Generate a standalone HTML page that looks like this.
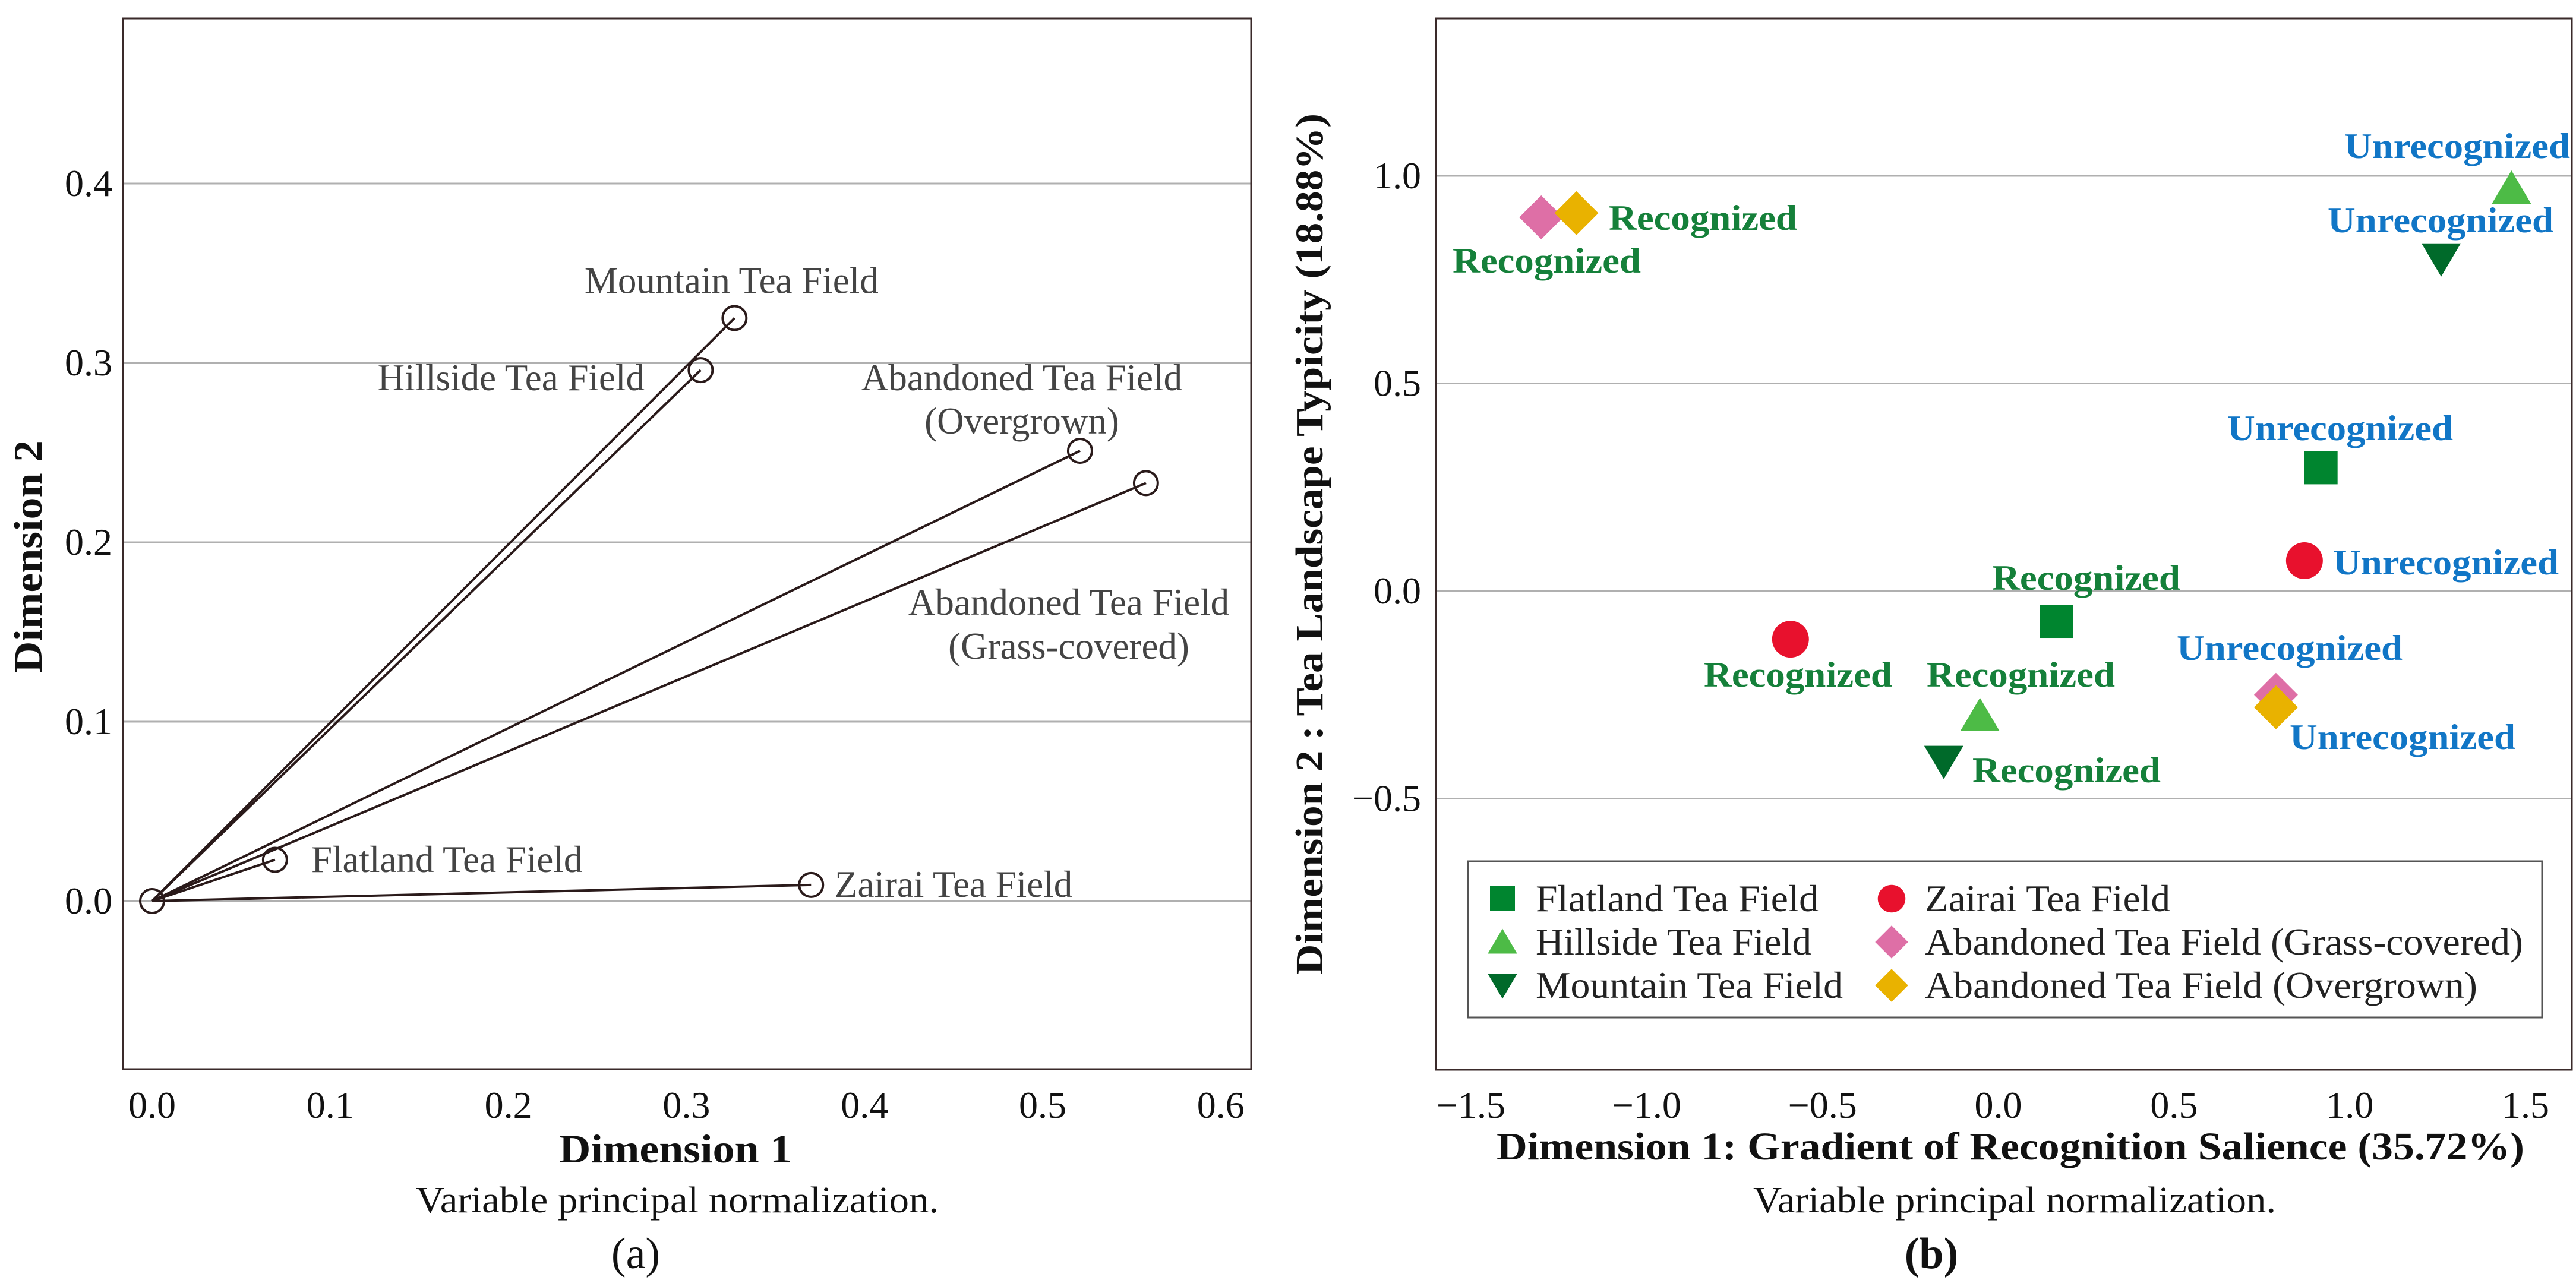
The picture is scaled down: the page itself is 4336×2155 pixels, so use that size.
<!DOCTYPE html>
<html><head><meta charset="utf-8"><style>
html,body{margin:0;padding:0;background:#fff}
svg{display:block;font-family:"Liberation Serif",serif}
text{font-family:"Liberation Serif",serif}
</style></head><body>
<svg id="s" width="4336" height="2155" viewBox="0 0 4336 2155" xmlns="http://www.w3.org/2000/svg">
<g id="pa"></g>
<g id="pb"></g>
</svg>
<script>
// Panel (a) data
const aNames = ["Mountain Tea Field","Hillside Tea Field","Abandoned Tea Field (Overgrown)","Abandoned Tea Field (Grass-covered)","Flatland Tea Field","Zairai Tea Field"];
const aX = [0.327,0.308,0.521,0.558,0.069,0.370];
const aY = [0.325,0.296,0.251,0.233,0.023,0.009];
const aXTicks = [0.0,0.1,0.2,0.3,0.4,0.5,0.6];
const aYTicks = [0.0,0.1,0.2,0.3,0.4];
// Panel (b) data
const bCats = ["Flatland Tea Field","Hillside Tea Field","Mountain Tea Field","Zairai Tea Field","Abandoned Tea Field (Grass-covered)","Abandoned Tea Field (Overgrown)"];
const bRecX = [0.166,-0.052,-0.155,-0.591,-1.30,-1.20];
const bRecY = [-0.073,-0.30,-0.41,-0.116,0.90,0.91];
const bUnX = [0.918,1.46,1.26,0.871,0.79,0.79];
const bUnY = [0.297,0.97,0.80,0.073,-0.25,-0.28];
const bXTicks = [-1.5,-1.0,-0.5,0.0,0.5,1.0,1.5];
const bYTicks = [-0.5,0.0,0.5,1.0];

const NS="http://www.w3.org/2000/svg";
function mk(p,t,a,txt){const e=document.createElementNS(NS,t);for(const k in a)e.setAttribute(k,a[k]);if(txt!==undefined)e.textContent=txt;p.appendChild(e);return e;}
const pa=document.getElementById('pa'), pb=document.getElementById('pb');

// ---------- Panel a ----------
const ax=v=>256+2998*v, ay=v=>1517-3020*v;
aYTicks.forEach(v=>{
  const l=mk(pa,'line',{x1:207,x2:2106,y1:ay(v),y2:ay(v),stroke:'#b0b0b0','stroke-width':3});
  
  
  const t=mk(pa,'text',{x:189,y:ay(v)+21,'text-anchor':'end','font-size':64,fill:'#111'},v.toFixed(1));
  
  
});
aXTicks.forEach(v=>{
  const t=mk(pa,'text',{x:ax(v),y:1882,'text-anchor':'middle','font-size':64,fill:'#111'},v.toFixed(1));
  
  
});
const fa=mk(pa,'rect',{x:207,y:31,width:1899,height:1769,fill:'none',stroke:'#3a2a2a','stroke-width':3});


aX.forEach((v,i)=>{
  const l=mk(pa,'line',{x1:ax(0),y1:ay(0),x2:ax(v),y2:ay(aY[i]),stroke:'#2a1a1a','stroke-width':4});
  
  
});
aX.forEach((v,i)=>{
  const c=mk(pa,'circle',{cx:ax(v),cy:ay(aY[i]),r:20,fill:'none',stroke:'#2a1a1a','stroke-width':4});
  
  
});
const o=mk(pa,'circle',{cx:ax(0),cy:ay(0),r:20,fill:'none',stroke:'#2a1a1a','stroke-width':4});


const aLab=[
 {t:["Mountain Tea Field"],x:ax(aX[0])-5,y:[ay(aY[0])-42],a:'middle'},
 {t:["Hillside Tea Field"],x:1085,y:[657],a:'end'},
 {t:["Abandoned Tea Field","(Overgrown)"],x:1720,y:[657,730],a:'middle'},
 {t:["Abandoned Tea Field","(Grass-covered)"],x:1799,y:[1035,1109],a:'middle'},
 {t:["Flatland Tea Field"],x:524,y:[1468],a:'start'},
 {t:["Zairai Tea Field"],x:1405,y:[1510],a:'start'}];
aLab.forEach(L=>L.t.forEach((s,j)=>{
  const t=mk(pa,'text',{x:L.x,y:L.y[j],'text-anchor':L.a,'font-size':63,fill:'#444'},s);
  
  
}));
let t;
t=mk(pa,'text',{x:1137,y:1957,'text-anchor':'middle','font-size':68,'font-weight':'bold',fill:'#111',textLength:392,lengthAdjust:'spacingAndGlyphs'},'Dimension 1');

t=mk(pa,'text',{x:0,y:0,'text-anchor':'middle','font-size':68,'font-weight':'bold',fill:'#111',textLength:392,lengthAdjust:'spacingAndGlyphs',transform:'translate(70,937) rotate(-90)'},'Dimension 2');

t=mk(pa,'text',{x:1140,y:2041,'text-anchor':'middle','font-size':62,fill:'#111',textLength:880,lengthAdjust:'spacingAndGlyphs'},'Variable principal normalization.');

t=mk(pa,'text',{x:1070,y:2135,'text-anchor':'middle','font-size':74,fill:'#111'},'(a)');


// ---------- Panel b ----------
const bx=v=>3363.5+591.7*v, by=v=>995-699*v;
const colors=['#00852f','#4dbb46','#006a2a','#e8112d','#de6fa6','#e9b200'];
bYTicks.forEach(v=>{
  const l=mk(pb,'line',{x1:2417,x2:4329,y1:by(v),y2:by(v),stroke:'#b0b0b0','stroke-width':3});
  
  
  const t=mk(pb,'text',{x:2392,y:by(v)+21,'text-anchor':'end','font-size':64,fill:'#111'},(v<0?'\u2212':'')+Math.abs(v).toFixed(1));
  
  
});
bXTicks.forEach(v=>{
  const t=mk(pb,'text',{x:bx(v),y:1882,'text-anchor':'middle','font-size':64,fill:'#111'},(v<0?'\u2212':'')+Math.abs(v).toFixed(1));
  
  
});
const fb=mk(pb,'rect',{x:2417,y:31,width:1912,height:1770,fill:'none',stroke:'#3a2a2a','stroke-width':3});


function marker(g,i,cx,cy,s){
  const c=colors[i];let e;
  if(i===0)e=mk(g,'rect',{x:cx-28*s,y:cy-28*s,width:56*s,height:56*s,fill:c});
  else if(i===1)e=mk(g,'polygon',{points:`${cx},${cy-30*s} ${cx+33*s},${cy+26*s} ${cx-33*s},${cy+26*s}`,fill:c});
  else if(i===2)e=mk(g,'polygon',{points:`${cx-33*s},${cy-26*s} ${cx+33*s},${cy-26*s} ${cx},${cy+30*s}`,fill:c});
  else if(i===3)e=mk(g,'circle',{cx:cx,cy:cy,r:31*s,fill:c});
  else e=mk(g,'polygon',{points:`${cx},${cy-37*s} ${cx+37*s},${cy} ${cx},${cy+37*s} ${cx-37*s},${cy}`,fill:c});
  return e;
}
// legend
const lg=mk(pb,'g',{});

const lb=mk(lg,'rect',{x:2471,y:1450,width:1808,height:263,fill:'#fff',stroke:'#555','stroke-width':3});

const legPos=[[2529,1513],[2529,1586],[2529,1659],[3184,1513],[3184,1586],[3184,1659]];
const legW=[476,464,517,413,1007,930];
bCats.forEach((c,i)=>{
  const m=marker(lg,i,legPos[i][0],legPos[i][1],0.75);
  
  const t=mk(lg,'text',{x:legPos[i][0]+56,y:legPos[i][1]+21,'font-size':64,fill:'#222',textLength:legW[i],lengthAdjust:'spacingAndGlyphs'},c);
  
});
// points
bCats.forEach((c,i)=>{
  let m=marker(pb,i,bx(bRecX[i]),by(bRecY[i]),1);
  
  m=marker(pb,i,bx(bUnX[i]),by(bUnY[i]),1);
  
});
const bLab=[
 ['Recognized',2708,387,0],['Recognized',2445,459,0],['Unrecognized',3946,266,1],['Unrecognized',3918,391,1],
 ['Unrecognized',3749,741,1],['Unrecognized',3927,967,1],['Recognized',3353,993,0],['Recognized',2868,1156,0],
 ['Recognized',3243,1156,0],['Unrecognized',3664,1111,1],['Unrecognized',3854,1261,1],['Recognized',3320,1317,0]];
bLab.forEach(L=>{
  const t=mk(pb,'text',{x:L[1],y:L[2],'font-size':60,'font-weight':'bold',fill:L[3]?'#1176c6':'#15803a',textLength:L[3]?380:317,lengthAdjust:'spacingAndGlyphs'},L[0]);
  
});
t=mk(pb,'text',{x:3384,y:1952,'text-anchor':'middle','font-size':66,'font-weight':'bold',fill:'#111',textLength:1730,lengthAdjust:'spacingAndGlyphs'},'Dimension 1: Gradient of Recognition Salience (35.72%)');

t=mk(pb,'text',{x:0,y:0,'text-anchor':'middle','font-size':66,'font-weight':'bold',fill:'#111',textLength:1450,lengthAdjust:'spacingAndGlyphs',transform:'translate(2226,916) rotate(-90)'},'Dimension 2 : Tea Landscape Typicity (18.88%)');

t=mk(pb,'text',{x:3391,y:2041,'text-anchor':'middle','font-size':62,fill:'#111',textLength:880,lengthAdjust:'spacingAndGlyphs'},'Variable principal normalization.');

t=mk(pb,'text',{x:3251,y:2135,'text-anchor':'middle','font-size':74,'font-weight':'bold',fill:'#111'},'(b)');

</script>
</body></html>
